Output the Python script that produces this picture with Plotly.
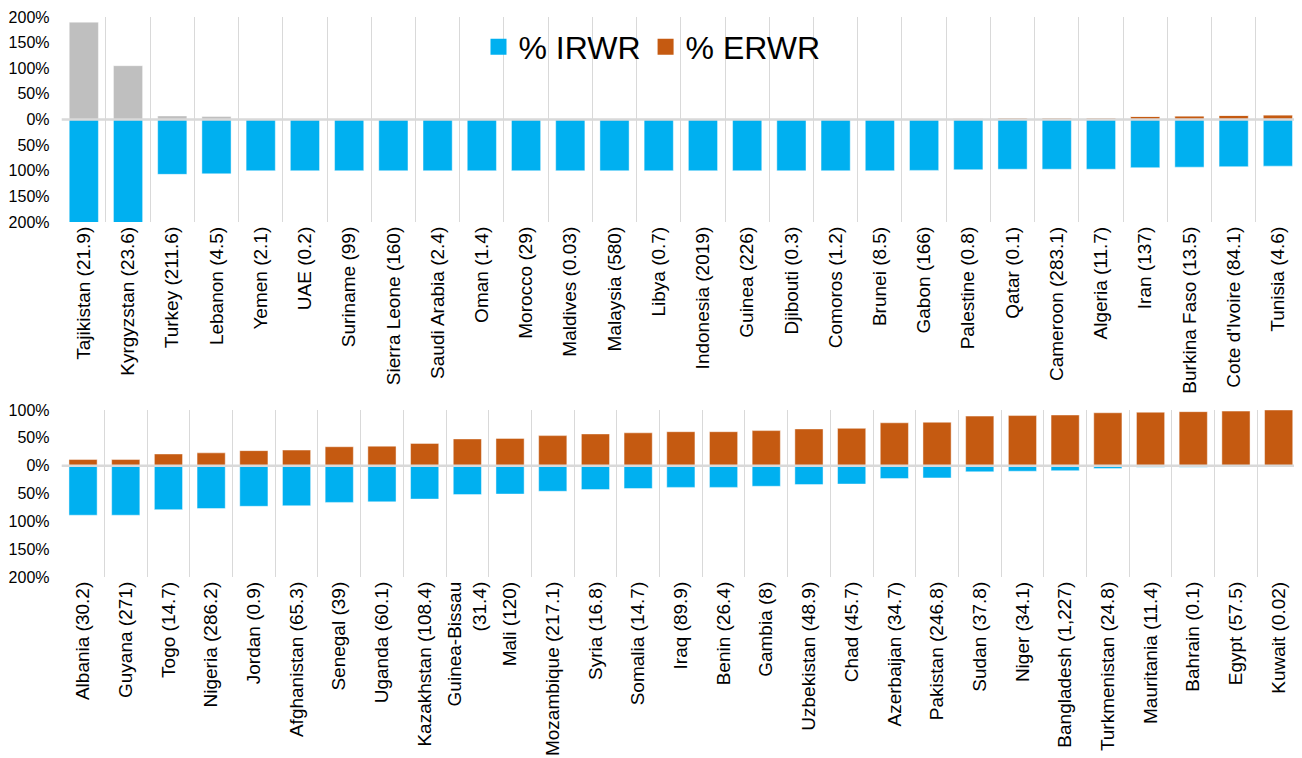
import plotly.graph_objects as go
from plotly.subplots import make_subplots

# ---------------- data ----------------
top_countries = ["Tajikistan (21.9)", "Kyrgyzstan (23.6)", "Turkey (211.6)", "Lebanon (4.5)",
                 "Yemen (2.1)", "UAE (0.2)", "Suriname (99)", "Sierra Leone (160)",
                 "Saudi Arabia (2.4)", "Oman (1.4)", "Morocco (29)", "Maldives (0.03)",
                 "Malaysia (580)", "Libya (0.7)", "Indonesia (2019)", "Guinea (226)",
                 "Djibouti (0.3)", "Comoros (1.2)", "Brunei (8.5)", "Gabon (166)",
                 "Palestine (0.8)", "Qatar (0.1)", "Cameroon (283.1)", "Algeria (11.7)",
                 "Iran (137)", "Burkina Faso (13.5)", "Cote d'Ivoire (84.1)", "Tunisia (4.6)"]
top_irwr = [290, 205, 107, 106, 100, 100, 100, 100, 100, 100, 100, 100, 100, 100,
            100, 100, 100, 100, 100, 99.3, 98, 97, 97, 97, 94, 93, 92, 91]
top_erwr = [0, 0, 0, 0, 0, 0, 0, 0, 0, 0, 0, 0, 0, 0,
            0, 0, 0, 0, 0, 0.7, 2, 3, 3, 3, 6, 7, 8, 9]
top_excess = [190, 105, 7, 6, 0, 0, 0, 0, 0, 0, 0, 0, 0, 0,
              0, 0, 0, 0, 0, 0, 0, 0, 0, 0, 0, 0, 0, 0]

bot_countries = ["Albania (30.2)", "Guyana (271)", "Togo (14.7)", "Nigeria (286.2)",
                 "Jordan (0.9)", "Afghanistan (65.3)", "Senegal (39)", "Uganda (60.1)",
                 "Kazakhstan (108.4)", "Guinea-Bissau<br>(31.4)", "Mali (120)",
                 "Mozambique (217.1)", "Syria (16.8)", "Somalia (14.7)", "Iraq (89.9)",
                 "Benin (26.4)", "Gambia (8)", "Uzbekistan (48.9)", "Chad (45.7)",
                 "Azerbaijan (34.7)", "Pakistan (246.8)", "Sudan (37.8)", "Niger (34.1)",
                 "Bangladesh (1,227)", "Turkmenistan (24.8)", "Mauritania (11.4)",
                 "Bahrain (0.1)", "Egypt (57.5)", "Kuwait (0.02)"]
bot_irwr = [89, 89, 79, 77, 73, 72, 66, 65, 60, 52, 51, 46, 43, 41, 39,
            39, 37, 34, 33, 23, 22, 11, 10, 9, 5, 3, 3, 1, 0]
bot_erwr = [11, 11, 21, 23, 27, 28, 34, 35, 40, 48, 49, 54, 57, 59, 61,
            61, 63, 66, 67, 77, 78, 89, 90, 91, 95, 96, 97, 98, 100]

top_ticks = [-200, -150, -100, -50, 0, 50, 100, 150, 200]
bot_ticks = [-200, -150, -100, -50, 0, 50, 100]

# ---------------- styles ----------------
BLUE = "#00B0F0"
ORANGE = "#C55A11"
GREY = "#BFBFBF"
FONT = "Liberation Sans, Arial, sans-serif"
EDGE = dict(color="rgba(255,255,255,0.45)", width=1)

fig = make_subplots(rows=2, cols=1)

fig.add_trace(go.Bar(x=top_countries, y=[-v for v in top_irwr], name="% IRWR",
                     marker=dict(color=BLUE, line=EDGE), showlegend=False,
                     legendgroup="i"), row=1, col=1)
fig.add_trace(go.Bar(x=top_countries, y=top_erwr, name="% ERWR",
                     marker=dict(color=ORANGE, line=EDGE), showlegend=False,
                     legendgroup="e"), row=1, col=1)
fig.add_trace(go.Bar(x=top_countries, y=top_excess, name="excess", showlegend=False,
                     marker=dict(color=GREY, line=EDGE)), row=1, col=1)

fig.add_trace(go.Bar(x=bot_countries, y=[-v for v in bot_irwr], name="% IRWR",
                     marker=dict(color=BLUE, line=EDGE), showlegend=False,
                     legendgroup="i"), row=2, col=1)
fig.add_trace(go.Bar(x=bot_countries, y=bot_erwr, name="% ERWR",
                     marker=dict(color=ORANGE, line=EDGE), showlegend=False,
                     legendgroup="e"), row=2, col=1)

# legend entries (larger square keys)
for nm, col, grp in [("% IRWR", BLUE, "i"), ("% ERWR", ORANGE, "e")]:
    fig.add_trace(go.Scatter(x=[None], y=[None], mode="markers", name=nm, legendgroup=grp,
                             marker=dict(symbol="square", size=16, color=col,
                                         line=dict(width=0))), row=1, col=1)

# page body has an 8px margin, so paper coords = screen coords - 8
W, H = 1294, 750
xdom = [53.7 / W, 1292 / W]
fig.update_layout(
    width=W, height=H,
    margin=dict(l=0, r=0, t=0, b=0, autoexpand=False),
    barmode="relative", bargap=0.34,
    plot_bgcolor="white", paper_bgcolor="white",
    font=dict(family=FONT, size=16, color="#000000"),
    showlegend=True,
    legend=dict(orientation="h", x=644 / W, xanchor="center", y=1 - 39 / H, yanchor="middle",
                font=dict(size=32, family=FONT, color="#000000"),
                bgcolor="rgba(0,0,0,0)", traceorder="normal", itemwidth=30),
)

axis_x = dict(type="category", tickson="boundaries", showgrid=True, gridcolor="#D9D9D9",
              gridwidth=1, tickangle=-90, ticks="outside", ticklen=9,
              tickcolor="rgba(0,0,0,0)", showline=False, zeroline=False, automargin=False,
              tickfont=dict(size=19, family=FONT, color="#000000"), domain=xdom)
fig.update_xaxes(**axis_x, row=1, col=1)
fig.update_xaxes(**axis_x, row=2, col=1)

fig.update_yaxes(range=[-200, 200], tickvals=top_ticks,
                 ticktext=[f"{abs(v)}%" for v in top_ticks],
                 domain=[1 - 214 / H, 1 - 9 / H], row=1, col=1)
fig.update_yaxes(range=[-200, 100], tickvals=bot_ticks,
                 ticktext=[f"{abs(v)}%" for v in bot_ticks],
                 domain=[1 - 569 / H, 1 - 402 / H], row=2, col=1)
fig.update_yaxes(showgrid=False, zeroline=False, showline=False, ticks="outside", ticklen=8,
                 tickcolor="rgba(0,0,0,0)", automargin=False,
                 tickfont=dict(size=16, family=FONT, color="#000000"))

# zero lines and right border drawn above bars
for ax in ["", "2"]:
    fig.add_shape(type="line", xref=f"x{ax} domain", yref=f"y{ax}", x0=0, x1=1, y0=0, y1=0,
                  line=dict(color="#D9D9D9", width=2.5), layer="above")
    fig.add_shape(type="line", xref=f"x{ax} domain", yref=f"y{ax} domain", x0=1, x1=1,
                  y0=0, y1=1, line=dict(color="#8C8C8C", width=1.5), layer="above")

fig.write_html("out.html")
